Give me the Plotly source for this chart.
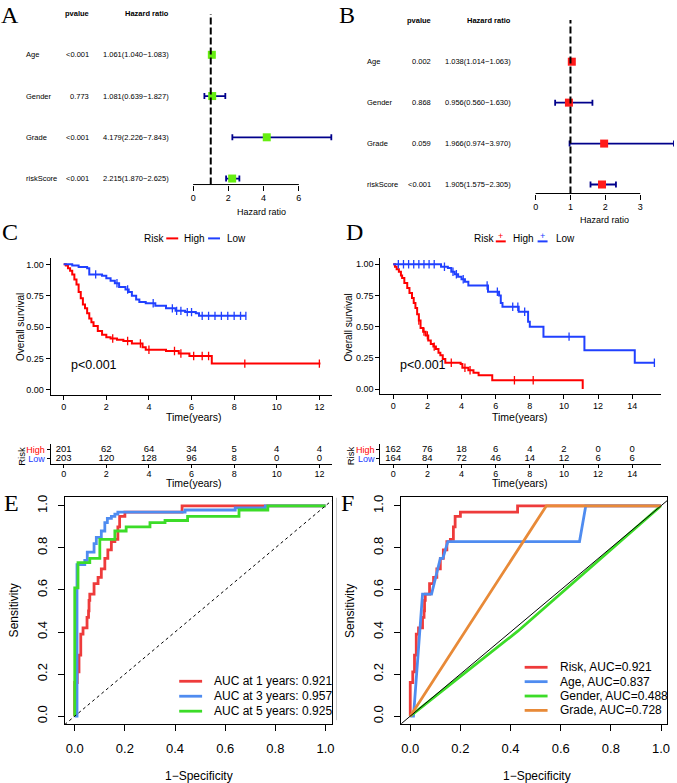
import numpy as np
import plotly.graph_objects as go

W, H = 677, 783


def px(x):
    return x / W


def py(y):
    return 1 - y / H


# ---------------- data ----------------
cox_vars = ["Age", "Gender", "Grade", "riskScore"]
cox_rows = [4, 3, 2, 1]

# A: univariate cox
uni_p = ["<0.001", "0.773", "<0.001", "<0.001"]
uni_hr = [1.061, 1.081, 4.179, 2.215]
uni_lo = [1.040, 0.639, 2.226, 1.870]
uni_hi = [1.083, 1.827, 7.843, 2.625]

# B: multivariate cox
multi_p = ["0.002", "0.868", "0.059", "<0.001"]
multi_hr = [1.038, 0.956, 1.966, 1.905]
multi_lo = [1.014, 0.560, 0.974, 1.575]
multi_hi = [1.063, 1.630, 3.970, 2.305]

# C: KM training set
c_high_t = [0, 0.1, 0.2, 0.3, 0.4, 0.5, 0.6, 0.7, 0.8, 0.9, 1.0, 1.1, 1.2, 1.3, 1.4,
            1.6, 1.8, 2.0, 2.2, 2.5, 2.8, 3.2, 3.7, 3.85, 4.8, 5.4, 5.9, 6.95]
c_high_s = [1.0, 0.99, 0.97, 0.95, 0.92, 0.88, 0.84, 0.78, 0.73, 0.68, 0.65, 0.61, 0.57,
            0.54, 0.51, 0.47, 0.44, 0.42, 0.41, 0.40, 0.39, 0.37, 0.34, 0.32, 0.31, 0.29,
            0.27, 0.21]
c_high_end = 12.05
c_high_cens = [2.3, 3.0, 3.6, 4.0, 5.2, 5.5, 6.1, 6.5, 6.8, 8.5, 12.0]
c_low_t = [0, 0.4, 0.7, 1.1, 1.2, 1.8, 2.0, 2.2, 2.4, 2.6, 2.9, 3.05, 3.2, 3.4, 3.55,
           3.85, 4.3, 4.8, 5.25, 5.7, 6.2, 6.35]
c_low_s = [1.0, 0.99, 0.98, 0.97, 0.92, 0.91, 0.89, 0.87, 0.85, 0.82, 0.80, 0.78, 0.75,
           0.72, 0.70, 0.69, 0.67, 0.65, 0.63, 0.62, 0.61, 0.59]
c_low_end = 8.55
c_low_cens = [1.5, 2.5, 3.0, 4.2, 5.1, 5.3, 5.5, 5.8, 6.0, 6.5, 6.8, 7.1, 7.4, 7.7,
              8.0, 8.3, 8.55]

# D: KM validation set
d_high_t = [0, 0.1, 0.2, 0.33, 0.45, 0.52, 0.65, 0.82, 0.95, 1.1, 1.2, 1.3, 1.4, 1.5,
            1.6, 1.75, 1.9, 2.05, 2.2, 2.35, 2.5, 2.65, 2.76, 2.9, 3.05, 3.95, 4.05, 4.4,
            4.7, 5.0, 5.8, 11.1]
d_high_s = [1.0, 0.98, 0.96, 0.94, 0.91, 0.89, 0.85, 0.81, 0.77, 0.73, 0.69, 0.65, 0.60,
            0.55, 0.49, 0.46, 0.43, 0.39, 0.36, 0.34, 0.32, 0.29, 0.27, 0.24, 0.21, 0.20,
            0.17, 0.15, 0.13, 0.11, 0.07, 0.0]
d_high_end = 11.1
d_high_cens = [1.5, 1.8, 2.0, 2.4, 3.4, 4.2, 4.5, 7.1, 8.2]
d_low_t = [0, 2.8, 3.2, 3.4, 3.6, 3.8, 4.0, 4.2, 4.4, 5.55, 6.2, 6.3, 6.4, 7.35, 7.9,
           8.0, 8.8, 11.2, 14.15]
d_low_s = [1.0, 0.98, 0.97, 0.94, 0.92, 0.90, 0.88, 0.86, 0.83, 0.78, 0.75, 0.69, 0.66,
           0.62, 0.54, 0.50, 0.42, 0.31, 0.21]
d_low_end = 15.3
d_low_cens = [0.3, 0.6, 0.9, 1.2, 1.5, 1.8, 2.1, 2.4, 3.0, 3.5, 3.7, 4.1, 5.5, 6.1,
              7.0, 7.3, 7.7, 10.3, 15.3]

# risk tables
c_tab_t = [0, 2, 4, 6, 8, 10, 12]
c_tab_high = [201, 62, 64, 34, 5, 4, 4]
c_tab_low = [203, 120, 128, 96, 8, 0, 0]
d_tab_t = [0, 2, 4, 6, 8, 10, 12, 14]
d_tab_high = [162, 76, 18, 6, 4, 2, 0, 0]
d_tab_low = [164, 84, 72, 46, 14, 12, 6, 6]

# E: time-dependent ROC (staircase points)
roc1_fpr = [0, 0, 0.01, 0.017, 0.024, 0.033, 0.049, 0.055, 0.057, 0.06, 0.077, 0.093,
            0.106, 0.12, 0.132, 0.146, 0.16, 0.172, 0.179, 0.2, 0.428, 1.0]
roc1_tpr = [0, 0.16, 0.21, 0.29, 0.39, 0.42, 0.47, 0.50, 0.55, 0.58, 0.63, 0.66, 0.70,
            0.75, 0.79, 0.83, 0.84, 0.90, 0.95, 0.97, 1.0, 1.0]
roc3_fpr = [0, 0.009, 0.009, 0.04, 0.05, 0.077, 0.086, 0.106, 0.12, 0.13, 0.146, 0.16,
            0.172, 0.2, 0.44, 0.64, 0.76, 1.0]
roc3_tpr = [0, 0.59, 0.72, 0.74, 0.78, 0.82, 0.85, 0.88, 0.92, 0.94, 0.95, 0.96, 0.97,
            0.97, 0.98, 0.99, 1.0, 1.0]
roc5_fpr = [0, 0, 0.013, 0.06, 0.1, 0.16, 0.205, 0.3, 0.36, 0.45, 0.655, 0.77, 1.0]
roc5_tpr = [0, 0.61, 0.73, 0.75, 0.84, 0.88, 0.90, 0.92, 0.93, 0.95, 0.98, 1.0, 1.0]
e_labels = ["AUC at 1 years: 0.921", "AUC at 3 years: 0.957", "AUC at 5 years: 0.925"]

# F: ROC of clinical factors
age_fpr = [0, 0.013, 0.049, 0.085, 0.12, 0.13, 0.15, 0.675, 0.70, 1.0]
age_tpr = [0, 0, 0.58, 0.58, 0.75, 0.75, 0.83, 0.83, 1.0, 1.0]
gender_fpr = [0, 0.43, 1.0]
gender_tpr = [0, 0.405, 1.0]
grade_fpr = [0, 0.543, 1.0]
grade_tpr = [0, 1.0, 1.0]
f_labels = ["Risk, AUC=0.921", "Age, AUC=0.837", "Gender, AUC=0.488", "Grade, AUC=0.728"]

KM_RED, KM_BLUE = "#FF0000", "#2040FF"
ROC_RED, ROC_BLUE, ROC_GREEN, ROC_ORANGE = "#EE3B3B", "#4F8CF0", "#3CDC28", "#E88A38"
SANS = "Liberation Sans"
SERIF = "Liberation Serif"

fig = go.Figure()
ann = []
shp = []


def text(x, y, s, size, xanchor="center", color="black", angle=0, yref="paper", family=SANS):
    ann.append(dict(x=x, y=y, xref="paper", yref=yref, text=s, showarrow=False,
                    xanchor=xanchor, yanchor="middle", textangle=angle,
                    font=dict(size=size, color=color, family=family)))


# ---------------- forest plots ----------------
def forest(ax, hr, lo, hi, pv, col_x, header_y, title_xy, ticks, color):
    xa, ya = ("x", "y") if ax == 1 else ("x%d" % ax, "y%d" % ax)
    hr, lo, hi = np.array(hr), np.array(lo), np.array(hi)
    fig.add_trace(go.Scatter(
        x=hr, y=cox_rows, mode="markers", xaxis=xa, yaxis=ya, cliponaxis=False,
        marker=dict(symbol="square", size=8, color=color),
        error_x=dict(type="data", symmetric=False, array=hi - hr, arrayminus=hr - lo,
                     color="#00008B", thickness=1.8, width=3)))
    for v, r, p, h, l, u in zip(cox_vars, cox_rows, pv, hr, lo, hi):
        text(px(col_x[0]), r, v, 7.5, "left", yref=ya)
        text(px(col_x[1]), r, p, 7.5, "right", yref=ya)
        text(px(col_x[2]), r, f"{h:.3f}({l:.3f}\u2212{u:.3f})", 7.5, "right", yref=ya)
    text(px(col_x[1]), py(header_y), "<b>pvalue</b>", 7.5, "right")
    text(px(col_x[2]), py(header_y), "<b>Hazard ratio</b>", 7.5, "right")
    text(px(title_xy[0]), py(title_xy[1]), "Hazard ratio", 9)
    shp.append(dict(type="line", xref=xa, yref=ya + " domain", x0=ticks[0], x1=ticks[-1],
                    y0=0, y1=0, line=dict(color="black", width=1)))
    shp.append(dict(type="line", xref=xa, yref=ya + " domain", x0=1, x1=1, y0=0, y1=1,
                    line=dict(color="black", width=2, dash="7px,3px")))


forest(1, uni_hr, uni_lo, uni_hi, uni_p, (24, 91, 172), 12, (263, 211), [0, 2, 4, 6], "#66EE11")
forest(2, multi_hr, multi_lo, multi_hi, multi_p, (367, 435, 515), 19, (607, 219), [0, 1, 2, 3], "#FF1A1A")


# ---------------- KM curves ----------------
def km(ax, t, s, t_end, cens, color):
    xa, ya = "x%d" % ax, "y%d" % ax
    fig.add_trace(go.Scatter(x=list(t) + [t_end], y=list(s) + [s[-1]], mode="lines",
                             line=dict(color=color, width=2, shape="hv"),
                             xaxis=xa, yaxis=ya))
    idx = np.searchsorted(np.array(t), np.array(cens), side="right") - 1
    fig.add_trace(go.Scatter(x=cens, y=np.array(s)[idx], mode="markers", xaxis=xa, yaxis=ya,
                             marker=dict(symbol="line-ns", size=6,
                                         line=dict(color=color, width=1.3))))


km(3, c_high_t, c_high_s, c_high_end, c_high_cens, KM_RED)
km(3, c_low_t, c_low_s, c_low_end, c_low_cens, KM_BLUE)
km(4, d_high_t, d_high_s, d_high_end, d_high_cens, KM_RED)
km(4, d_low_t, d_low_s, d_low_end, d_low_cens, KM_BLUE)


# risk tables
def table(ax, t, hi, lo):
    xa, ya = "x%d" % ax, "y%d" % ax
    for row, vals in [(2, hi), (1, lo)]:
        fig.add_trace(go.Scatter(x=t, y=[row] * len(t), text=[str(v) for v in vals],
                                 mode="text", textfont=dict(size=9.5, color="black"),
                                 xaxis=xa, yaxis=ya, cliponaxis=False))


table(5, c_tab_t, c_tab_high, c_tab_low)
table(6, d_tab_t, d_tab_high, d_tab_low)

# ---------------- ROC ----------------
for f, t, c in [(roc1_fpr, roc1_tpr, ROC_RED), (roc3_fpr, roc3_tpr, ROC_BLUE),
                (roc5_fpr, roc5_tpr, ROC_GREEN)]:
    fig.add_trace(go.Scatter(x=f, y=t, mode="lines", xaxis="x7", yaxis="y7",
                             line=dict(color=c, width=2.8, shape="hv")))
fig.add_trace(go.Scatter(x=roc1_fpr, y=roc1_tpr, mode="lines", xaxis="x8", yaxis="y8",
                         line=dict(color=ROC_RED, width=2.8, shape="hv")))
for f, t, c in [(age_fpr, age_tpr, ROC_BLUE), (gender_fpr, gender_tpr, ROC_GREEN),
                (grade_fpr, grade_tpr, ROC_ORANGE)]:
    fig.add_trace(go.Scatter(x=f, y=t, mode="lines", xaxis="x8", yaxis="y8",
                             line=dict(color=c, width=2.8)))

shp.append(dict(type="line", xref="x7", yref="y7", x0=-0.04, y0=-0.04, x1=1.024, y1=1.024,
                line=dict(color="black", width=1, dash="3px,3px"), layer="above"))
shp.append(dict(type="line", xref="x8", yref="y8", x0=-0.036, y0=-0.036, x1=1.024, y1=1.024,
                line=dict(color="black", width=1), layer="above"))
shp.append(dict(type="line", xref="paper", yref="paper", x0=px(338), x1=px(338),
                y0=py(720), y1=py(497), line=dict(color="#C8C8C8", width=1)))

# ROC legends
for i, (lab, c) in enumerate(zip(e_labels, [ROC_RED, ROC_BLUE, ROC_GREEN])):
    yy = 681 + 15 * i
    shp.append(dict(type="line", xref="paper", yref="paper", x0=px(180), x1=px(203),
                    y0=py(yy), y1=py(yy), line=dict(color=c, width=2.8)))
    text(px(213), py(yy), lab, 12, "left")
for i, (lab, c) in enumerate(zip(f_labels, [ROC_RED, ROC_BLUE, ROC_GREEN, ROC_ORANGE])):
    yy = 667 + 14.4 * i
    shp.append(dict(type="line", xref="paper", yref="paper", x0=px(527), x1=px(550),
                    y0=py(yy), y1=py(yy), line=dict(color=c, width=2.8)))
    text(px(560), py(yy), lab, 12, "left")

# KM legends
text(px(143), py(237), "Risk", 10, "left")
text(px(183), py(237), "High", 10, "left")
text(px(226), py(237), "Low", 10, "left")
for x0, c in [(167, KM_RED), (209, KM_BLUE)]:
    shp.append(dict(type="line", xref="paper", yref="paper", x0=px(x0), x1=px(x0 + 12),
                    y0=py(237), y1=py(237), line=dict(color=c, width=2)))
text(px(474), py(237), "Risk", 10, "left")
text(px(513), py(237), "High", 10, "left")
text(px(556), py(237), "Low", 10, "left")
for x0, c in [(498, KM_RED), (540, KM_BLUE)]:
    shp.append(dict(type="line", xref="paper", yref="paper", x0=px(x0), x1=px(x0 + 10),
                    y0=py(240), y1=py(240), line=dict(color=c, width=2)))
    text(px(x0 + 5), py(235), "+", 9, color=c)

# axis titles & labels
for xc in (20, 350):
    text(px(xc), py(326), "Overall survival", 10, angle=-90)
    text(px(xc + 2), py(455), "Risk", 9.5, angle=-90)
for xc in (195, 522):
    text(px(xc), py(416), "Time(years)", 10.5)
    text(px(xc), py(482), "Time(years)", 10.5)
text(px(69), py(364), "p<0.001", 12.5, "left")
text(px(400), py(364), "p<0.001", 12.5, "left")
for xc, yc in [(15, 610), (352, 610)]:
    text(px(xc), py(yc), "Sensitivity", 12, angle=-90)
for xc in (200, 539):
    text(px(xc), py(776), "1\u2212Specificity", 12)

# panel letters
for lab, xc, yc in [("A", 10, 13), ("B", 349, 13), ("C", 10, 231), ("D", 356, 231),
                    ("E", 12, 502), ("F", 349, 502)]:
    text(px(xc), py(yc), lab, 24, family=SERIF)

# ---------------- axes ----------------
hidden = dict(visible=False, showgrid=False, zeroline=False)


def forest_x(dom, rng, ticks, anchor):
    return dict(domain=dom, range=rng, tickvals=ticks, ticks="outside", ticklen=5,
                tickcolor="black", showline=False, showgrid=False, zeroline=False,
                tickfont=dict(size=9, color="black"), anchor=anchor)


def km_axis(dom, rng, ticks, anchor, ticktext=None, size=9, ticklen=4, standoff=0):
    d = dict(domain=dom, range=rng, tickvals=ticks, ticks="outside", ticklen=ticklen,
             tickcolor="black", showline=True, linecolor="black", linewidth=1.2,
             showgrid=False, zeroline=False, tickfont=dict(size=size, color="black"),
             ticklabelstandoff=standoff, anchor=anchor)
    if ticktext is not None:
        d["ticktext"] = ticktext
    return d


def roc_axis(dom, rng, anchor, angle=0):
    return dict(domain=dom, range=rng, tickvals=[0, 0.2, 0.4, 0.6, 0.8, 1.0],
                tickformat=".1f", ticks="outside", ticklen=6, tickcolor="black",
                showline=True, mirror=True, linecolor="black", linewidth=1,
                showgrid=False, zeroline=False, tickangle=angle,
                ticklabelstandoff=6, tickfont=dict(size=13, color="black"), anchor=anchor)


surv_ticks = [0, 0.25, 0.5, 0.75, 1.0]
surv_text = ["0.00", "0.25", "0.50", "0.75", "1.00"]
# tickvals [1, 2] -> Low row at 1, High row at 2
tab_text = ['<span style="color:#2040FF">Low</span>', '<span style="color:#FF0000">High</span>']

fig.update_layout(
    width=W, height=H, margin=dict(l=0, r=0, t=0, b=0),
    paper_bgcolor="white", plot_bgcolor="white", showlegend=False,
    font=dict(family=SANS, color="black"),
    xaxis=forest_x([px(185), px(340)], [-0.508, 8.25], [0, 2, 4, 6], "y"),
    yaxis=dict(domain=[py(183), py(12)], range=[0.855, 4.99], anchor="x", **hidden),
    xaxis2=forest_x([px(530), 1.0], [-0.229, 3.971], [0, 1, 2, 3], "y2"),
    yaxis2=dict(domain=[py(192), py(18)], range=[0.78, 5.02], anchor="x2", **hidden),
    xaxis3=km_axis([px(51), px(333)], [-0.607, 12.57], list(range(0, 13, 2)), "y3",
                   standoff=-1),
    yaxis3=km_axis([py(394), py(257)], [-0.04, 1.048], surv_ticks, "x3", surv_text),
    xaxis4=km_axis([px(382), px(664)], [-0.758, 15.69], list(range(0, 15, 2)), "y4",
                   standoff=-1),
    yaxis4=km_axis([py(393), py(257)], [-0.04, 1.048], surv_ticks, "x4", surv_text),
    xaxis5=km_axis([px(51), px(333)], [-0.607, 12.57], list(range(0, 13, 2)), "y5",
                   size=9, ticklen=3, standoff=-2),
    yaxis5=km_axis([py(463), py(443)], [0.44, 2.67], [1, 2], "x5", tab_text, size=9, ticklen=3),
    xaxis6=km_axis([px(382), px(664)], [-0.758, 15.69], list(range(0, 15, 2)), "y6",
                   size=9, ticklen=3, standoff=-2),
    yaxis6=km_axis([py(463), py(443)], [0.44, 2.67], [1, 2], "x6", tab_text, size=9, ticklen=3),
    xaxis7=roc_axis([px(65), px(333)], [-0.04, 1.024], "y7"),
    yaxis7=roc_axis([py(724), py(496)], [-0.038, 1.043], "x7", -90),
    xaxis8=roc_axis([px(403), px(670)], [-0.036, 1.024], "y8"),
    yaxis8=roc_axis([py(724), py(496)], [-0.038, 1.043], "x8", -90),
    annotations=ann, shapes=shp,
)

# the page body has a default 8px margin; remove it so the figure fills the window
fig.write_html("out.html", config={"displayModeBar": False},
               post_script="document.body.style.margin='0';")
